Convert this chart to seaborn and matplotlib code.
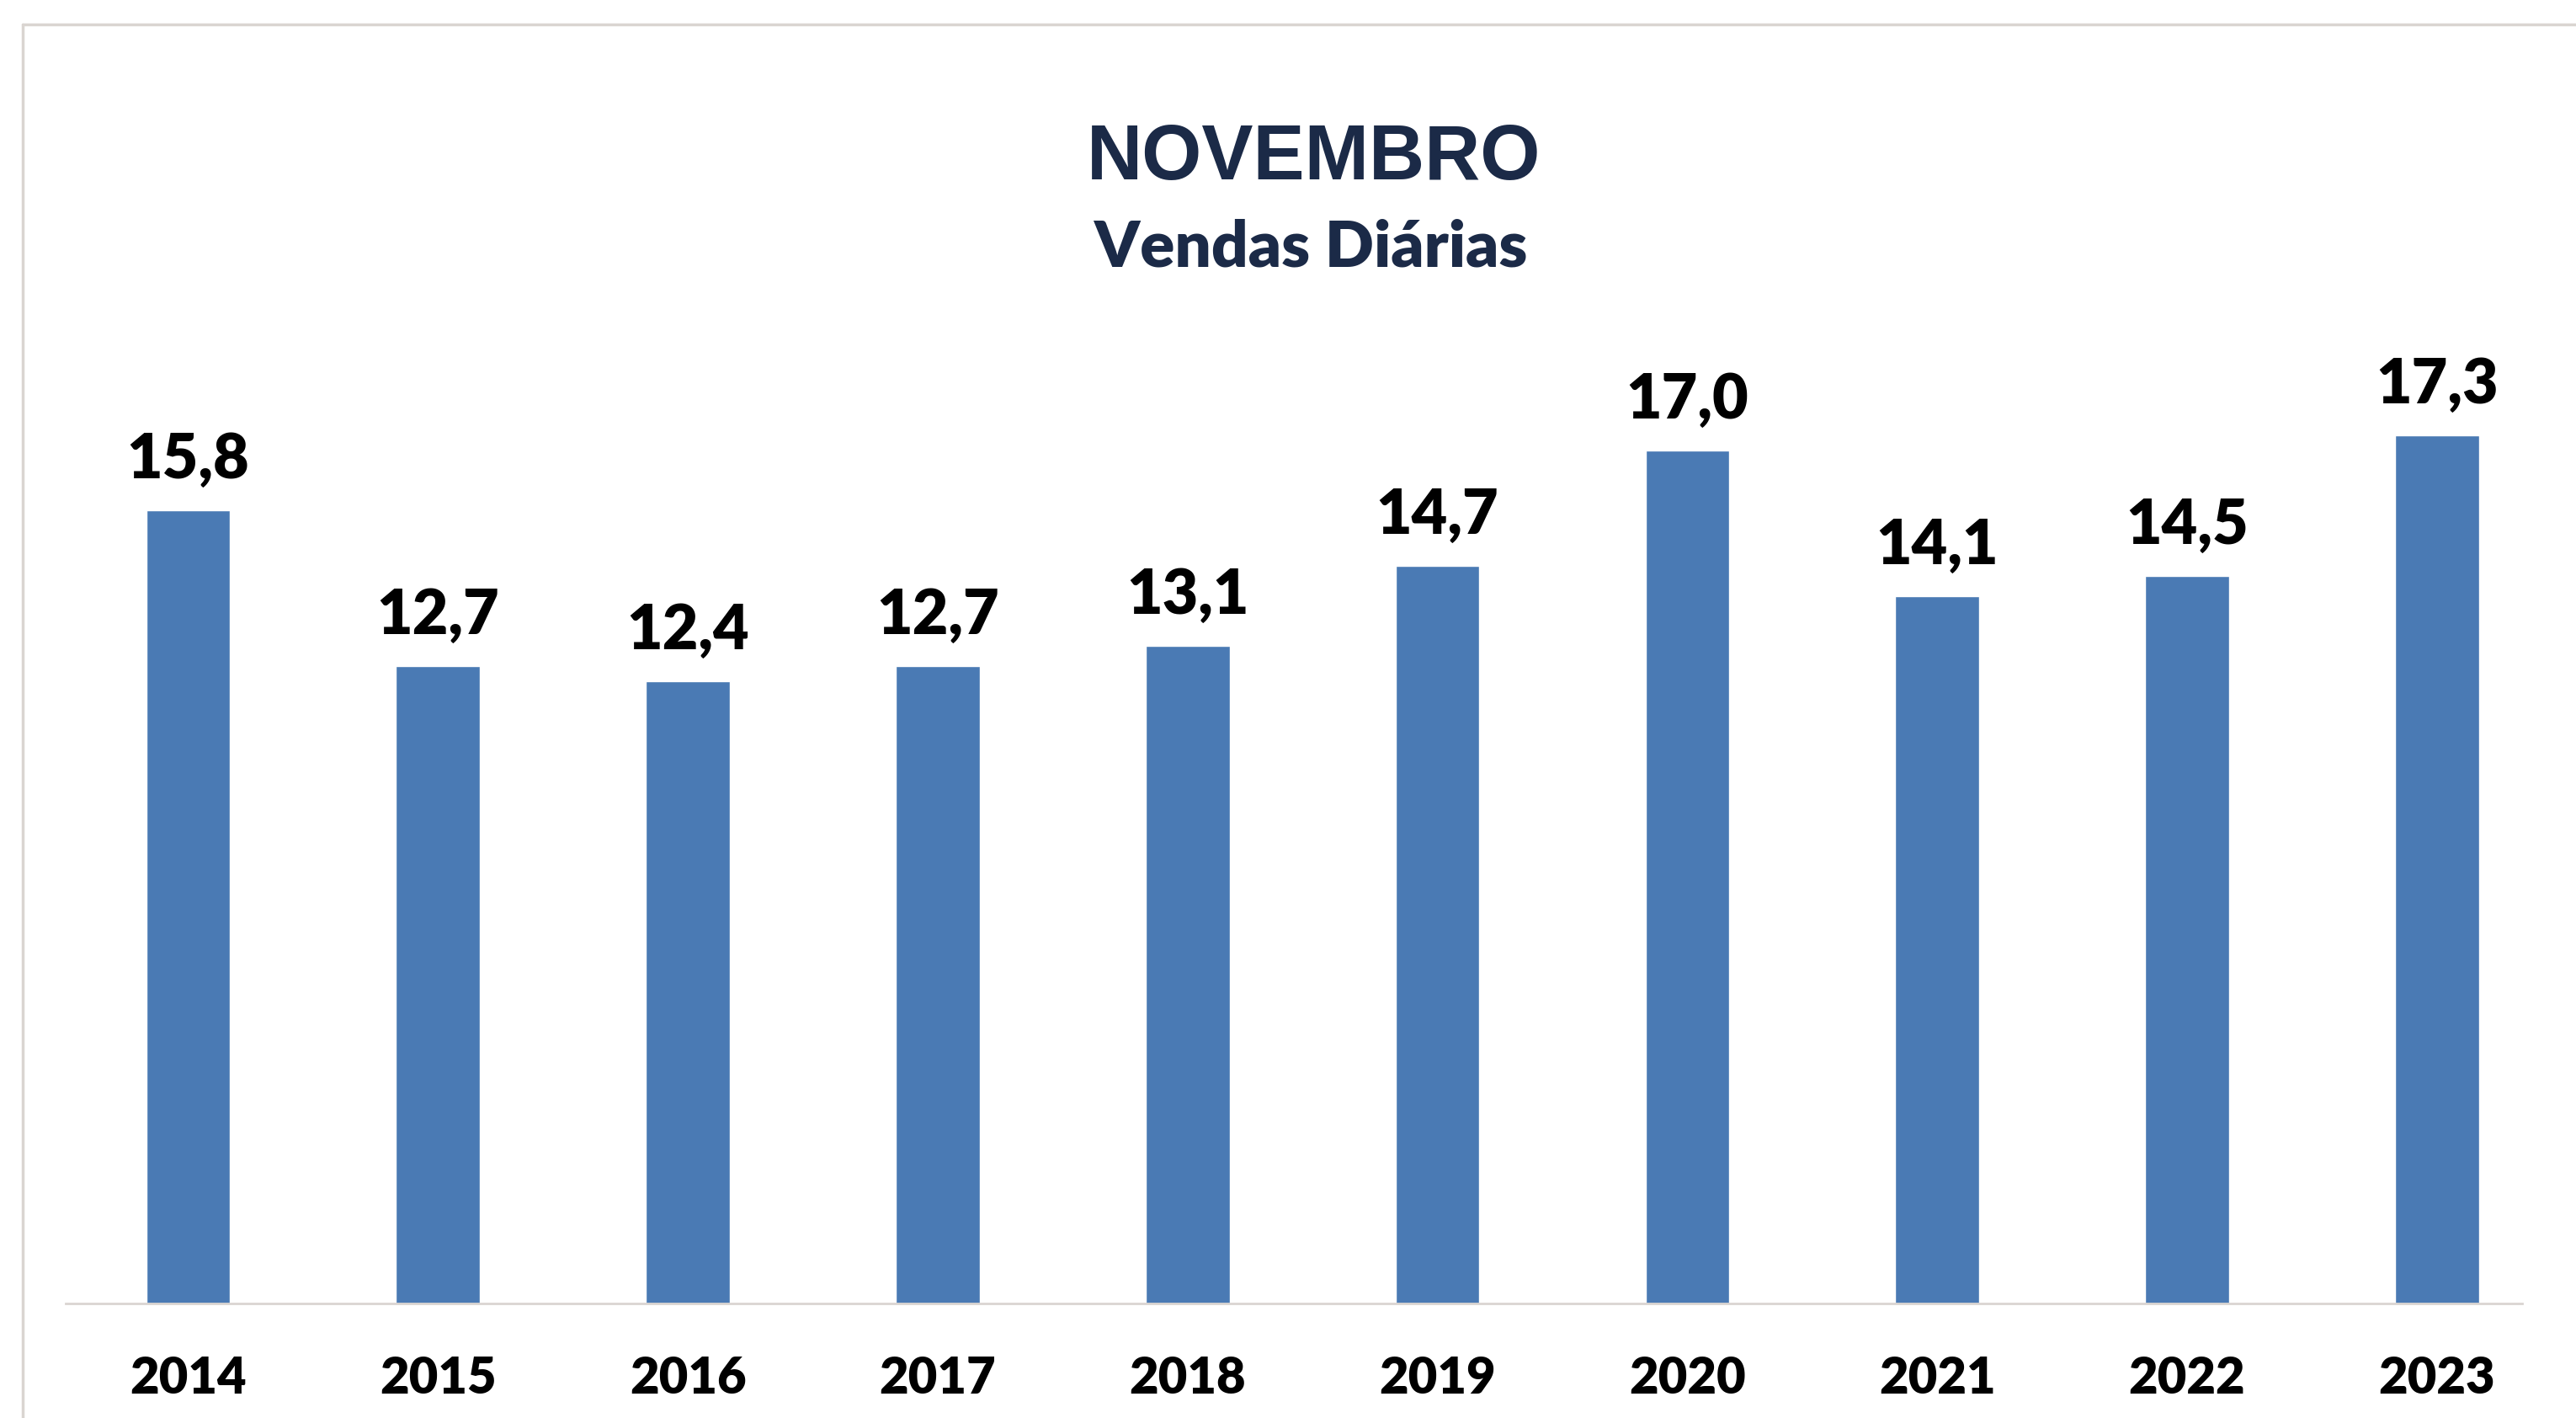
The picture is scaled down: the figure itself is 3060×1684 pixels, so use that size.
import matplotlib.pyplot as plt
from matplotlib.lines import Line2D
import seaborn as sns

years = ["2014", "2015", "2016", "2017", "2018", "2019", "2020", "2021", "2022", "2023"]
vendas = [15.8, 12.7, 12.4, 12.7, 13.1, 14.7, 17.0, 14.1, 14.5, 17.3]
title = "NOVEMBRO"
subtitle = "Vendas Diárias"

bar_color = "#4A7AB4"
navy = "#1B2A47"
frame_gray = "#DAD5D1"

sns.set_theme(style="white")
plt.rcParams["font.family"] = ["Lato", "DejaVu Sans"]

fig = plt.figure(figsize=(30.6, 16.84), dpi=100)
ax = fig.add_axes([0.0255, 0.0808, 0.9535, 0.7078])

sns.barplot(x=years, y=vendas, color=bar_color, saturation=1, width=0.336, ax=ax)

# value labels use a decimal comma, as in the original
labels = [f"{v:.1f}".replace(".", ",") for v in vendas]
ax.bar_label(ax.containers[0], labels=labels, padding=18,
             fontsize=53, fontweight="heavy", color="black")

ax.set_xlim(-0.49, 9.34)
ax.set_ylim(0, 20)
ax.set_xlabel("")
ax.set_ylabel("")
ax.set_yticks([])
ax.tick_params(axis="x", length=0, pad=45)
for lab in ax.get_xticklabels():
    lab.set_fontsize(43)
    lab.set_fontweight("heavy")
    lab.set_color("black")

for side in ["top", "left", "right"]:
    ax.spines[side].set_visible(False)
ax.spines["bottom"].set_color(frame_gray)
ax.spines["bottom"].set_linewidth(2)

fig.text(0.510, 0.888, title, ha="center", va="center", fontsize=66,
         fontweight="bold", color=navy, family=["Liberation Sans", "DejaVu Sans"])
fig.text(0.509, 0.825, subtitle, ha="center", va="center", fontsize=55,
         fontweight="heavy", color=navy)

# outer chart frame, cut by the image edge
fig.add_artist(Line2D([0.0088, 0.0088], [0, 0.9828], color=frame_gray, lw=2.5))
fig.add_artist(Line2D([0.0088, 1], [0.9828, 0.9828], color=frame_gray, lw=2.5))

fig.savefig("out.png", dpi=100)
